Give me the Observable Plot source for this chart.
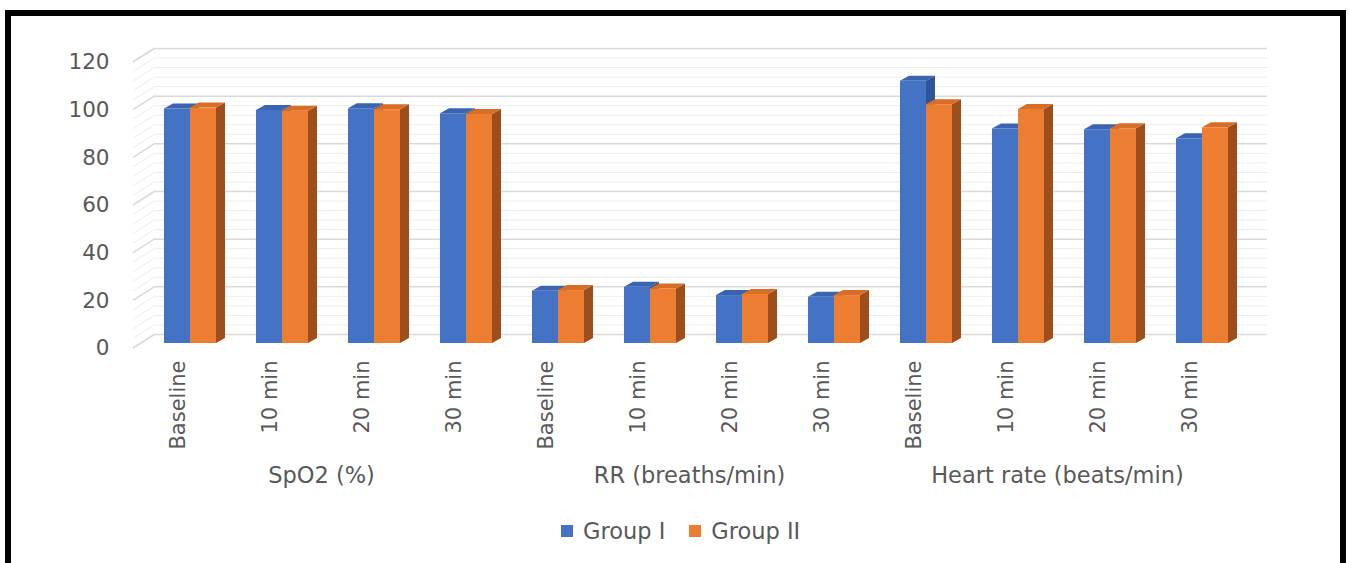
<!DOCTYPE html>
<html>
<head>
<meta charset="utf-8">
<script src="https://cdn.jsdelivr.net/npm/d3@7"></script>
<script src="https://cdn.jsdelivr.net/npm/@observablehq/plot@0.6"></script>
<style>
  html, body { margin: 0; padding: 0; background: #fff; width: 1349px; height: 563px; overflow: hidden; }
  #frame { position: absolute; left: 5px; top: 10px; width: 1329px; height: 600px; border: 6px solid #000; background: #fff; }
  #chart { position: absolute; left: 0; top: 0; }
  #legend { position: absolute; left: 550px; top: 503px; height: 24px; display: flex; align-items: center;
            font-family: "DejaVu Sans", sans-serif; font-size: 22.5px; color: #595959; white-space: nowrap; }
  #legend .item { display: flex; align-items: center; margin-right: 24px; }
  #legend .sw { width: 12px; height: 12px; margin-right: 10px; }
</style>
</head>
<body>
<div id="frame">
  <div id="chart"></div>
  <div id="legend"></div>
</div>
<script>
// Vital signs measured at four time points, two study groups
const measures = ["SpO2 (%)", "RR (breaths/min)", "Heart rate (beats/min)"];
const times = ["Baseline", "10 min", "20 min", "30 min"];
const groupI  = [98.4, 97.8, 98.5, 96.4, 21.9, 23.6, 20.1, 19.4, 110.0, 90.0, 89.7, 85.9];
const groupII = [98.8, 97.5, 98.1, 96.1, 22.2, 22.9, 20.6, 20.1, 100.2, 98.2, 90.1, 90.5];
const seriesNames = ["Group I", "Group II"];
const yTicks = [0, 20, 40, 60, 80, 100, 120];

// Colours: front face, top face, side face for each group
const frontColors = ["#4472C4", "#ED7D31"];
const topColors = ["#3A63B0", "#D86E26"];
const sideColors = ["#2E5597", "#9C4F1C"];
const textColor = "#595959";
const font = "DejaVu Sans, sans-serif";

// Pseudo-3D geometry (pixels)
const DEPTH_X = 9, DEPTH_Y = -5;      // column depth
const WALL_BACK = [0, -9];           // back wall offset from the column plane
const WALL_FRONT = [-22, 5];         // front edge of the side wall

const keys = measures.flatMap(m => times.map(t => `${m}|${t}`));
const rows = keys.map((key, i) => ({
  key,
  measure: key.split("|")[0],
  time: key.split("|")[1],
  g1: groupI[i],
  g2: groupII[i]
}));

const gridMinor = d3.range(0, 121, 4).filter(v => v % 20 !== 0);

// Hatched left side wall: a diagonal for every grid line
function sideWall(index, scales, values, dimensions) {
  const {y} = scales;
  const g = d3.create("svg:g");
  const x0 = dimensions.marginLeft;
  for (const [vals, stroke, w] of [[gridMinor, "#ececec", 1], [yTicks, "#d9d9d9", 1.5]]) {
    for (const v of vals) {
      g.append("line")
        .attr("x1", x0 + WALL_FRONT[0]).attr("y1", y(v) + WALL_FRONT[1])
        .attr("x2", x0).attr("y2", y(v) + WALL_BACK[1])
        .attr("stroke", stroke).attr("stroke-width", w);
    }
  }
  return g.node();
}

// Top and side faces of every column, drawn behind the front faces
function columnDepth(index, scales) {
  const {x, y} = scales;
  const bw = (x.bandwidth ? x.bandwidth() : 52) / 2;
  const g = d3.create("svg:g");
  const yb = y(0);
  for (const r of rows) {
    [r.g1, r.g2].forEach((v, s) => {
      const xl = x(r.key) + s * bw, xr = xl + bw, yt = y(v);
      g.append("path")
        .attr("d", `M${xr},${yt}L${xr + DEPTH_X},${yt + DEPTH_Y}L${xr + DEPTH_X},${yb + DEPTH_Y}L${xr},${yb}Z`)
        .attr("fill", sideColors[s]);
      g.append("path")
        .attr("d", `M${xl},${yt}L${xl + DEPTH_X},${yt + DEPTH_Y}L${xr + DEPTH_X},${yt + DEPTH_Y}L${xr},${yt}Z`)
        .attr("fill", topColors[s]);
    });
  }
  return g.node();
}

const W = 1329, H = 480, FLOOR = 327, TOP = 41;

const chart = Plot.plot({
  width: W,
  height: H,
  marginLeft: 144,
  marginRight: 73,
  marginTop: 20,
  marginBottom: H - FLOOR,
  style: {background: "transparent", fontFamily: font, overflow: "visible"},
  x: {type: "band", domain: keys, range: [150, 1220], paddingInner: 0.438, paddingOuter: 0, axis: null},
  y: {domain: [0, 120], range: [FLOOR, TOP], axis: null},
  marks: [
    // back wall grid
    Plot.ruleY(gridMinor, {y: d => d, dy: WALL_BACK[1], stroke: "#ececec", strokeWidth: 1}),
    Plot.ruleY(yTicks, {y: d => d, dy: WALL_BACK[1], stroke: "#d9d9d9", strokeWidth: 1.5}),
    sideWall,
    // columns
    columnDepth,
    Plot.barY(rows, {x: "key", y: "g1", fill: frontColors[0], insetRight: 26}),
    Plot.barY(rows, {x: "key", y: "g2", fill: frontColors[1], insetLeft: 26}),
    // value axis labels
    Plot.text(yTicks, {y: d => d, text: d => String(d), frameAnchor: "left", textAnchor: "end",
      dx: -46, dy: WALL_FRONT[1], fontSize: 21.5, fill: textColor}),
    // time point labels
    Plot.text(rows, {x: "key", text: "time", frameAnchor: "bottom", rotate: -90, textAnchor: "end",
      dx: -6, dy: 17, fontSize: 21, fill: textColor}),
    // measure labels, centred under each block of four
    Plot.text(measures, {x: d => `${d}|10 min`, text: d => d, frameAnchor: "bottom",
      dx: 39, dy: 139, fontSize: 22.5, fill: textColor})
  ]
});
document.getElementById("chart").appendChild(chart);

// Legend
const legend = document.getElementById("legend");
seriesNames.forEach((name, i) => {
  const item = document.createElement("div");
  item.className = "item";
  const sw = document.createElement("div");
  sw.className = "sw";
  sw.style.background = frontColors[i];
  const label = document.createElement("span");
  label.textContent = name;
  item.appendChild(sw);
  item.appendChild(label);
  legend.appendChild(item);
});
</script>
</body>
</html>
